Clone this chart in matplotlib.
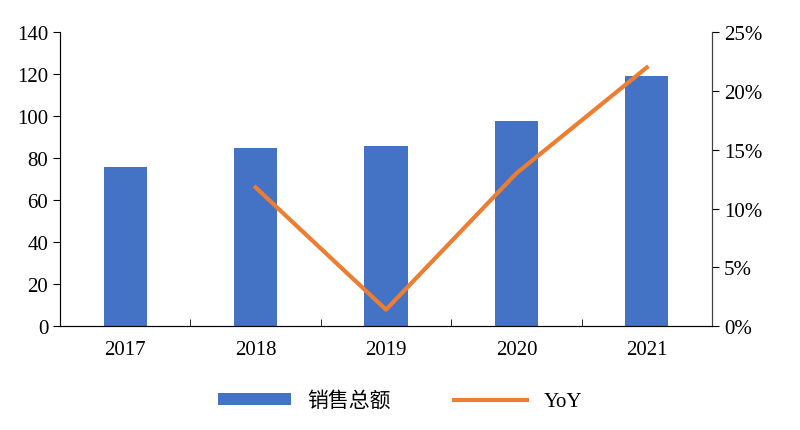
import matplotlib.pyplot as plt
import numpy as np
from matplotlib.ticker import FuncFormatter

plt.rcParams['font.family'] = ['Liberation Serif', 'Noto Sans CJK SC']

years = ['2017', '2018', '2019', '2020', '2021']
sales = [76, 85, 86, 97.5, 119]
yoy_years = ['2018', '2019', '2020', '2021']
yoy = [11.8, 1.4, 13.0, 22.0]

fig = plt.figure(figsize=(8, 4.31), dpi=100)
ax = fig.add_axes([0.075, 0.241, 0.815, 0.682])
x = np.arange(len(years))
ax.bar(x, sales, width=0.33, color='#4472C4', label='销售总额')
ax.set_ylim(0, 140)
ax.set_yticks(range(0, 141, 20))
ax.set_xlim(-0.5, len(years) - 0.5)
ax.set_xticks(x)
ax.set_xticklabels(years)
ax.set_xticks(np.arange(-0.5, len(years), 1), minor=True)
ax.tick_params(axis='x', which='major', length=0, labelsize=15, pad=10)
ax.tick_params(axis='x', which='minor', length=5, direction='in')
ax.tick_params(axis='y', labelsize=15, length=5)
ax.spines['top'].set_visible(False)
for s in ['left', 'right', 'bottom']:
    ax.spines[s].set_color('#404040')

ax2 = ax.twinx()
ax2.plot([years.index(y) for y in yoy_years], yoy, color='#ED7D31', lw=3, label='YoY')
ax2.set_ylim(0, 25)
ax2.set_yticks(range(0, 26, 5))
ax2.yaxis.set_major_formatter(FuncFormatter(lambda v, p: f'{v:.0f}%'))
ax2.tick_params(axis='y', labelsize=15, length=5)
ax2.spines['top'].set_visible(False)
ax2.spines['right'].set_color('#404040')

h1, l1 = ax.get_legend_handles_labels()
h2, l2 = ax2.get_legend_handles_labels()
fig.legend(h1 + h2, l1 + l2, loc='lower center', bbox_to_anchor=(0.5, 0.0),
           ncol=2, frameon=False, fontsize=15, handlelength=3.5, handleheight=0.5,
           columnspacing=3)

fig.savefig('out.png', dpi=100)
